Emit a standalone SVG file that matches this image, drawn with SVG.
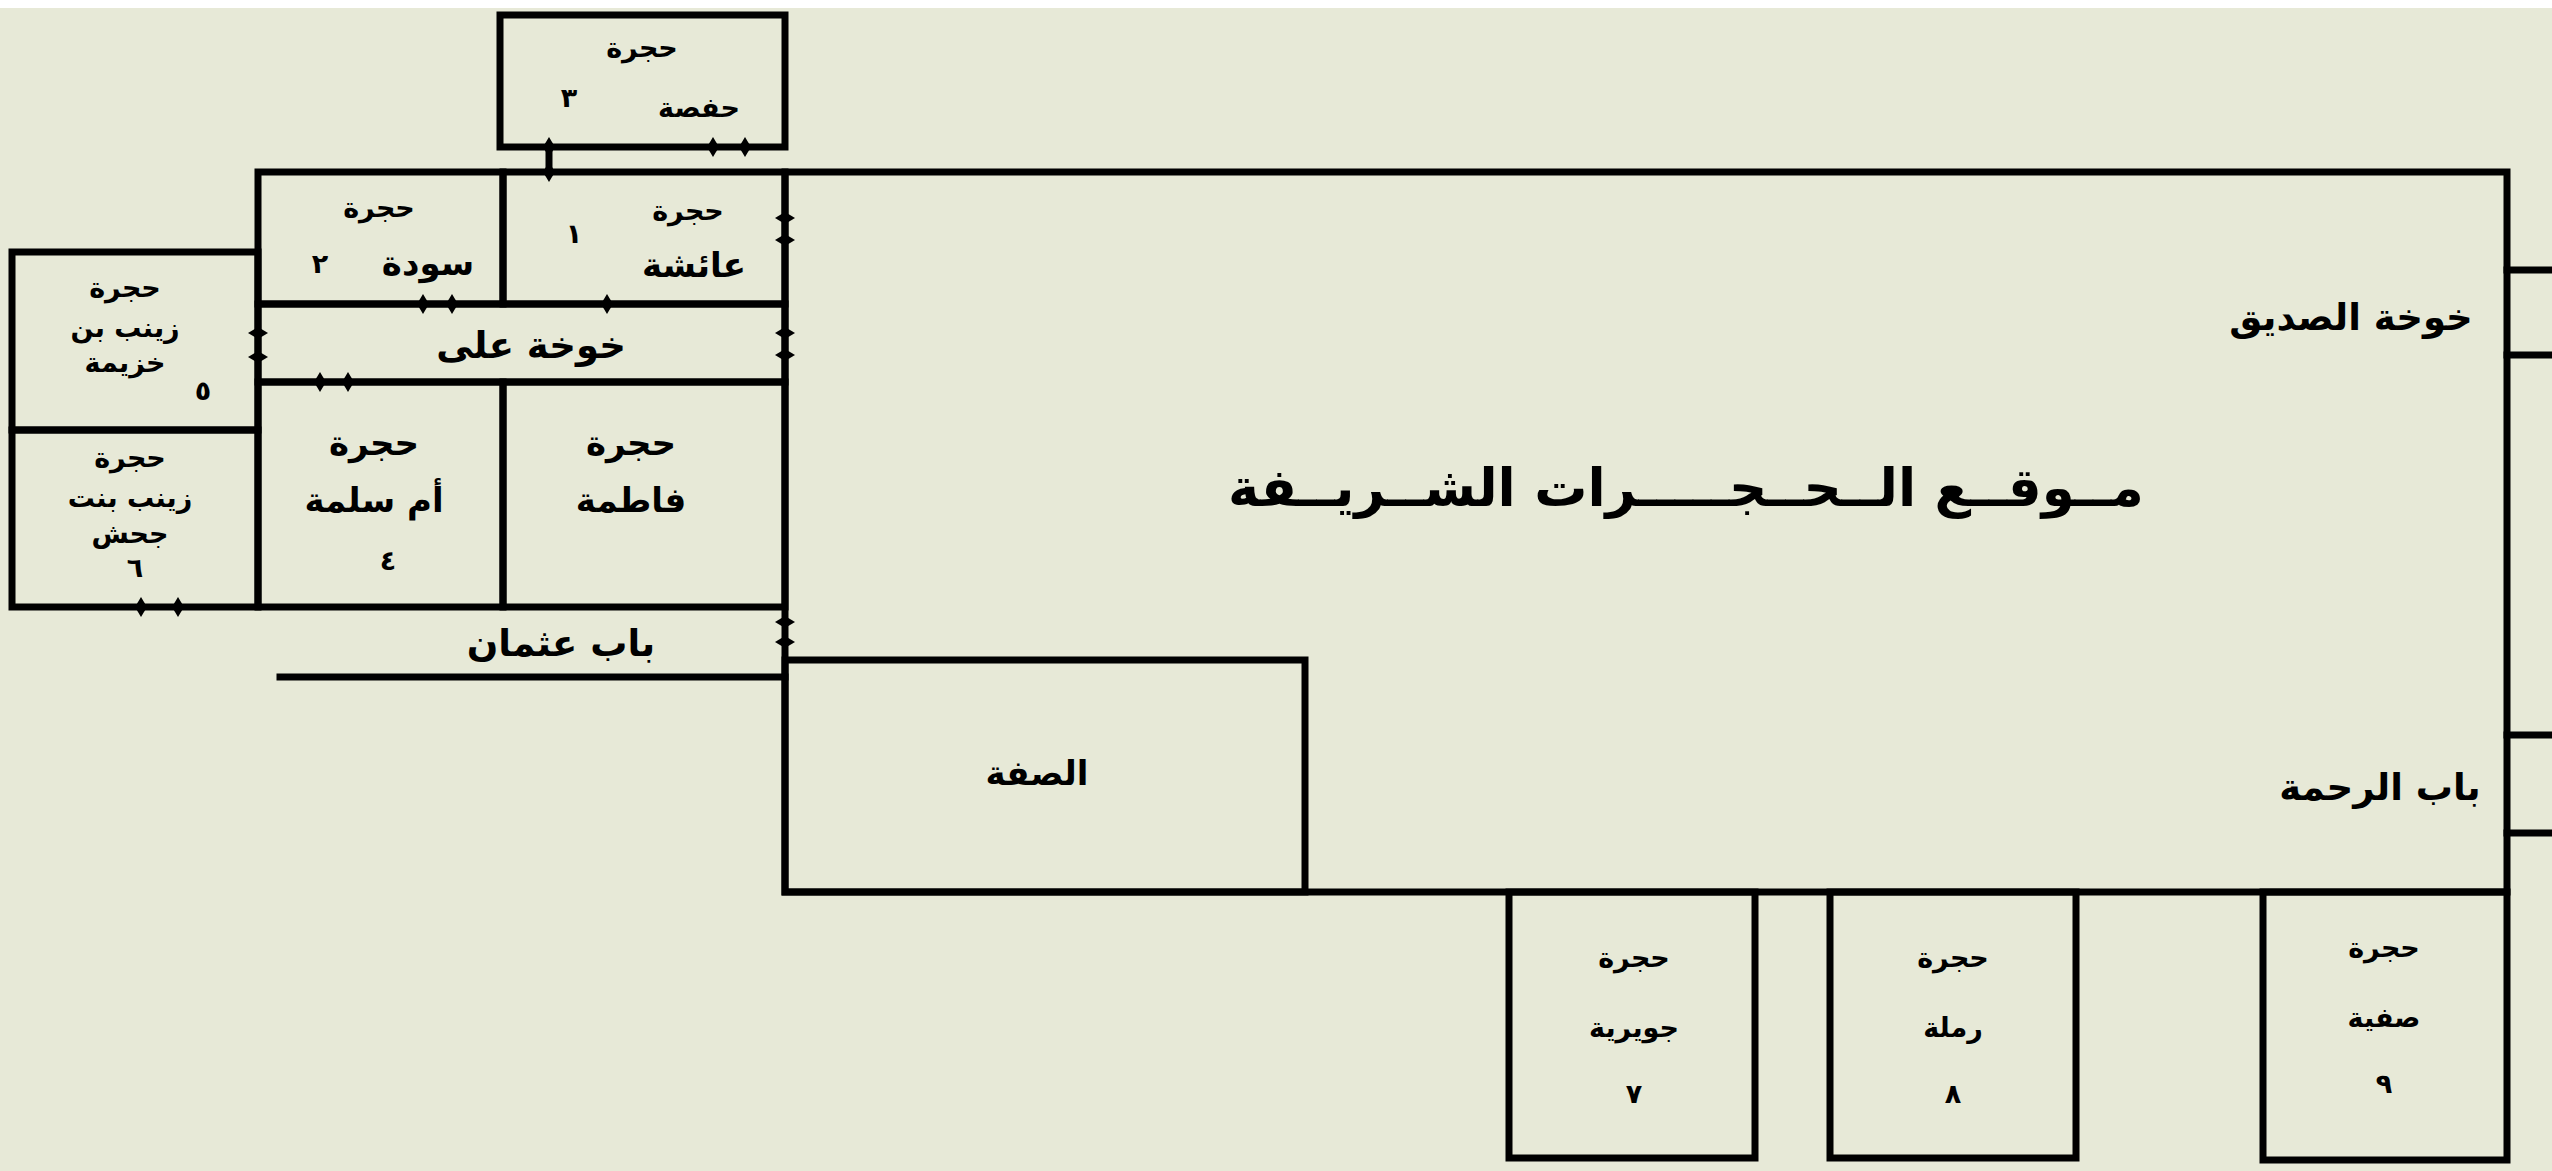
<svg xmlns="http://www.w3.org/2000/svg" width="2552" height="1171" viewBox="0 0 2552 1171">
<style>
.w{fill:none;stroke:#000;stroke-width:7;stroke-linecap:square}
.t{font-family:"DejaVu Sans",sans-serif;font-weight:bold;fill:#000;text-anchor:middle;dominant-baseline:central;direction:rtl}
.s{font-size:27px}
.m{font-size:34px}
.l{font-size:37px}
.d{fill:#000}
</style>
<defs>
<path id="dv" d="M0,-10 L6,0 L0,10 L-6,0Z"/>
<path id="dh" d="M-10,0 L0,-6 L10,0 L0,6Z"/>
</defs>
<rect width="2552" height="1171" fill="#E7E9D7"/>
<rect width="2552" height="8" fill="#FFFFFF"/>

<g id="main-site">
<rect class="w" x="785" y="172" width="1722" height="720"/>
<line class="w" x1="2507" y1="270" x2="2552" y2="270"/>
<line class="w" x1="2507" y1="355" x2="2552" y2="355"/>
<line class="w" x1="2507" y1="735" x2="2552" y2="735"/>
<line class="w" x1="2507" y1="833" x2="2552" y2="833"/>
<text class="t" x="1686" y="487" font-size="53">مــوقــع الــحــجـــــرات الشــريــفة</text>
<text class="t l" x="2351" y="317">خوخة الصديق</text>
<text class="t l" x="2380" y="787">باب الرحمة</text>
</g>

<g id="hafsa">
<rect class="w" x="500" y="15" width="285" height="132"/>
<text class="t s" x="642" y="47">حجرة</text>
<text class="t s" x="569" y="97">٣</text>
<text class="t s" x="699" y="107">حفصة</text>
</g>

<g id="sawda">
<rect class="w" x="258" y="172" width="245" height="132"/>
<text class="t s" x="379" y="207">حجرة</text>
<text class="t m" x="428" y="263">سودة</text>
<text class="t s" x="320" y="263">٢</text>
</g>

<g id="aisha">
<rect class="w" x="503" y="172" width="282" height="132"/>
<text class="t s" x="688" y="210">حجرة</text>
<text class="t s" x="574" y="233">١</text>
<text class="t m" x="694" y="265">عائشة</text>
</g>

<g id="khawkha-ali">
<rect class="w" x="258" y="304" width="527" height="78"/>
<text class="t l" x="531" y="345">خوخة على</text>
</g>

<g id="zaynab-khuzayma">
<rect class="w" x="12" y="252" width="246" height="178"/>
<text class="t s" x="125" y="287">حجرة</text>
<text class="t s" x="125" y="327">زينب بن</text>
<text class="t s" x="125" y="362">خزيمة</text>
<text class="t s" x="203" y="390">٥</text>
</g>

<g id="zaynab-jahsh">
<rect class="w" x="12" y="430" width="246" height="177"/>
<text class="t s" x="130" y="457">حجرة</text>
<text class="t s" x="130" y="497">زينب بنت</text>
<text class="t s" x="130" y="533">جحش</text>
<text class="t s" x="135" y="567">٦</text>
</g>

<g id="umm-salama">
<rect class="w" x="258" y="382" width="245" height="225"/>
<text class="t m" x="374" y="443">حجرة</text>
<text class="t m" x="374" y="500">أم سلمة</text>
<text class="t s" x="388" y="560">٤</text>
</g>

<g id="fatima">
<rect class="w" x="503" y="382" width="282" height="225"/>
<text class="t m" x="631" y="443">حجرة</text>
<text class="t m" x="631" y="500">فاطمة</text>
</g>

<g id="bab-uthman">
<line class="w" x1="280" y1="677" x2="785" y2="677"/>
<text class="t l" x="561" y="643">باب عثمان</text>
</g>

<g id="suffa">
<rect class="w" x="785" y="660" width="520" height="232"/>
<text class="t m" x="1037" y="773">الصفة</text>
</g>

<g id="juwayriya">
<rect class="w" x="1509" y="892" width="246" height="266"/>
<text class="t s" x="1634" y="957">حجرة</text>
<text class="t s" x="1634" y="1027">جويرية</text>
<text class="t s" x="1634" y="1093">٧</text>
</g>

<g id="ramla">
<rect class="w" x="1830" y="892" width="246" height="266"/>
<text class="t s" x="1953" y="957">حجرة</text>
<text class="t s" x="1953" y="1027">رملة</text>
<text class="t s" x="1953" y="1093">٨</text>
</g>

<g id="safiyya">
<rect class="w" x="2263" y="892" width="244" height="268"/>
<text class="t s" x="2384" y="947">حجرة</text>
<text class="t s" x="2384" y="1017">صفية</text>
<text class="t s" x="2384" y="1083">٩</text>
</g>

<g id="connectors">
<line class="w" x1="549" y1="147" x2="549" y2="172"/>
<use href="#dv" class="d" x="549" y="147"/>
<use href="#dv" class="d" x="713" y="147"/>
<use href="#dv" class="d" x="745" y="147"/>
<use href="#dv" class="d" x="549" y="172"/>
<use href="#dv" class="d" x="423" y="304"/>
<use href="#dv" class="d" x="452" y="304"/>
<use href="#dv" class="d" x="607" y="304"/>
<use href="#dv" class="d" x="320" y="382"/>
<use href="#dv" class="d" x="348" y="382"/>
<use href="#dv" class="d" x="141" y="607"/>
<use href="#dv" class="d" x="178" y="607"/>
<use href="#dh" class="d" x="258" y="333"/>
<use href="#dh" class="d" x="258" y="357"/>
<use href="#dh" class="d" x="785" y="218"/>
<use href="#dh" class="d" x="785" y="240"/>
<use href="#dh" class="d" x="785" y="333"/>
<use href="#dh" class="d" x="785" y="355"/>
<use href="#dh" class="d" x="785" y="622"/>
<use href="#dh" class="d" x="785" y="642"/>
</g>
</svg>
